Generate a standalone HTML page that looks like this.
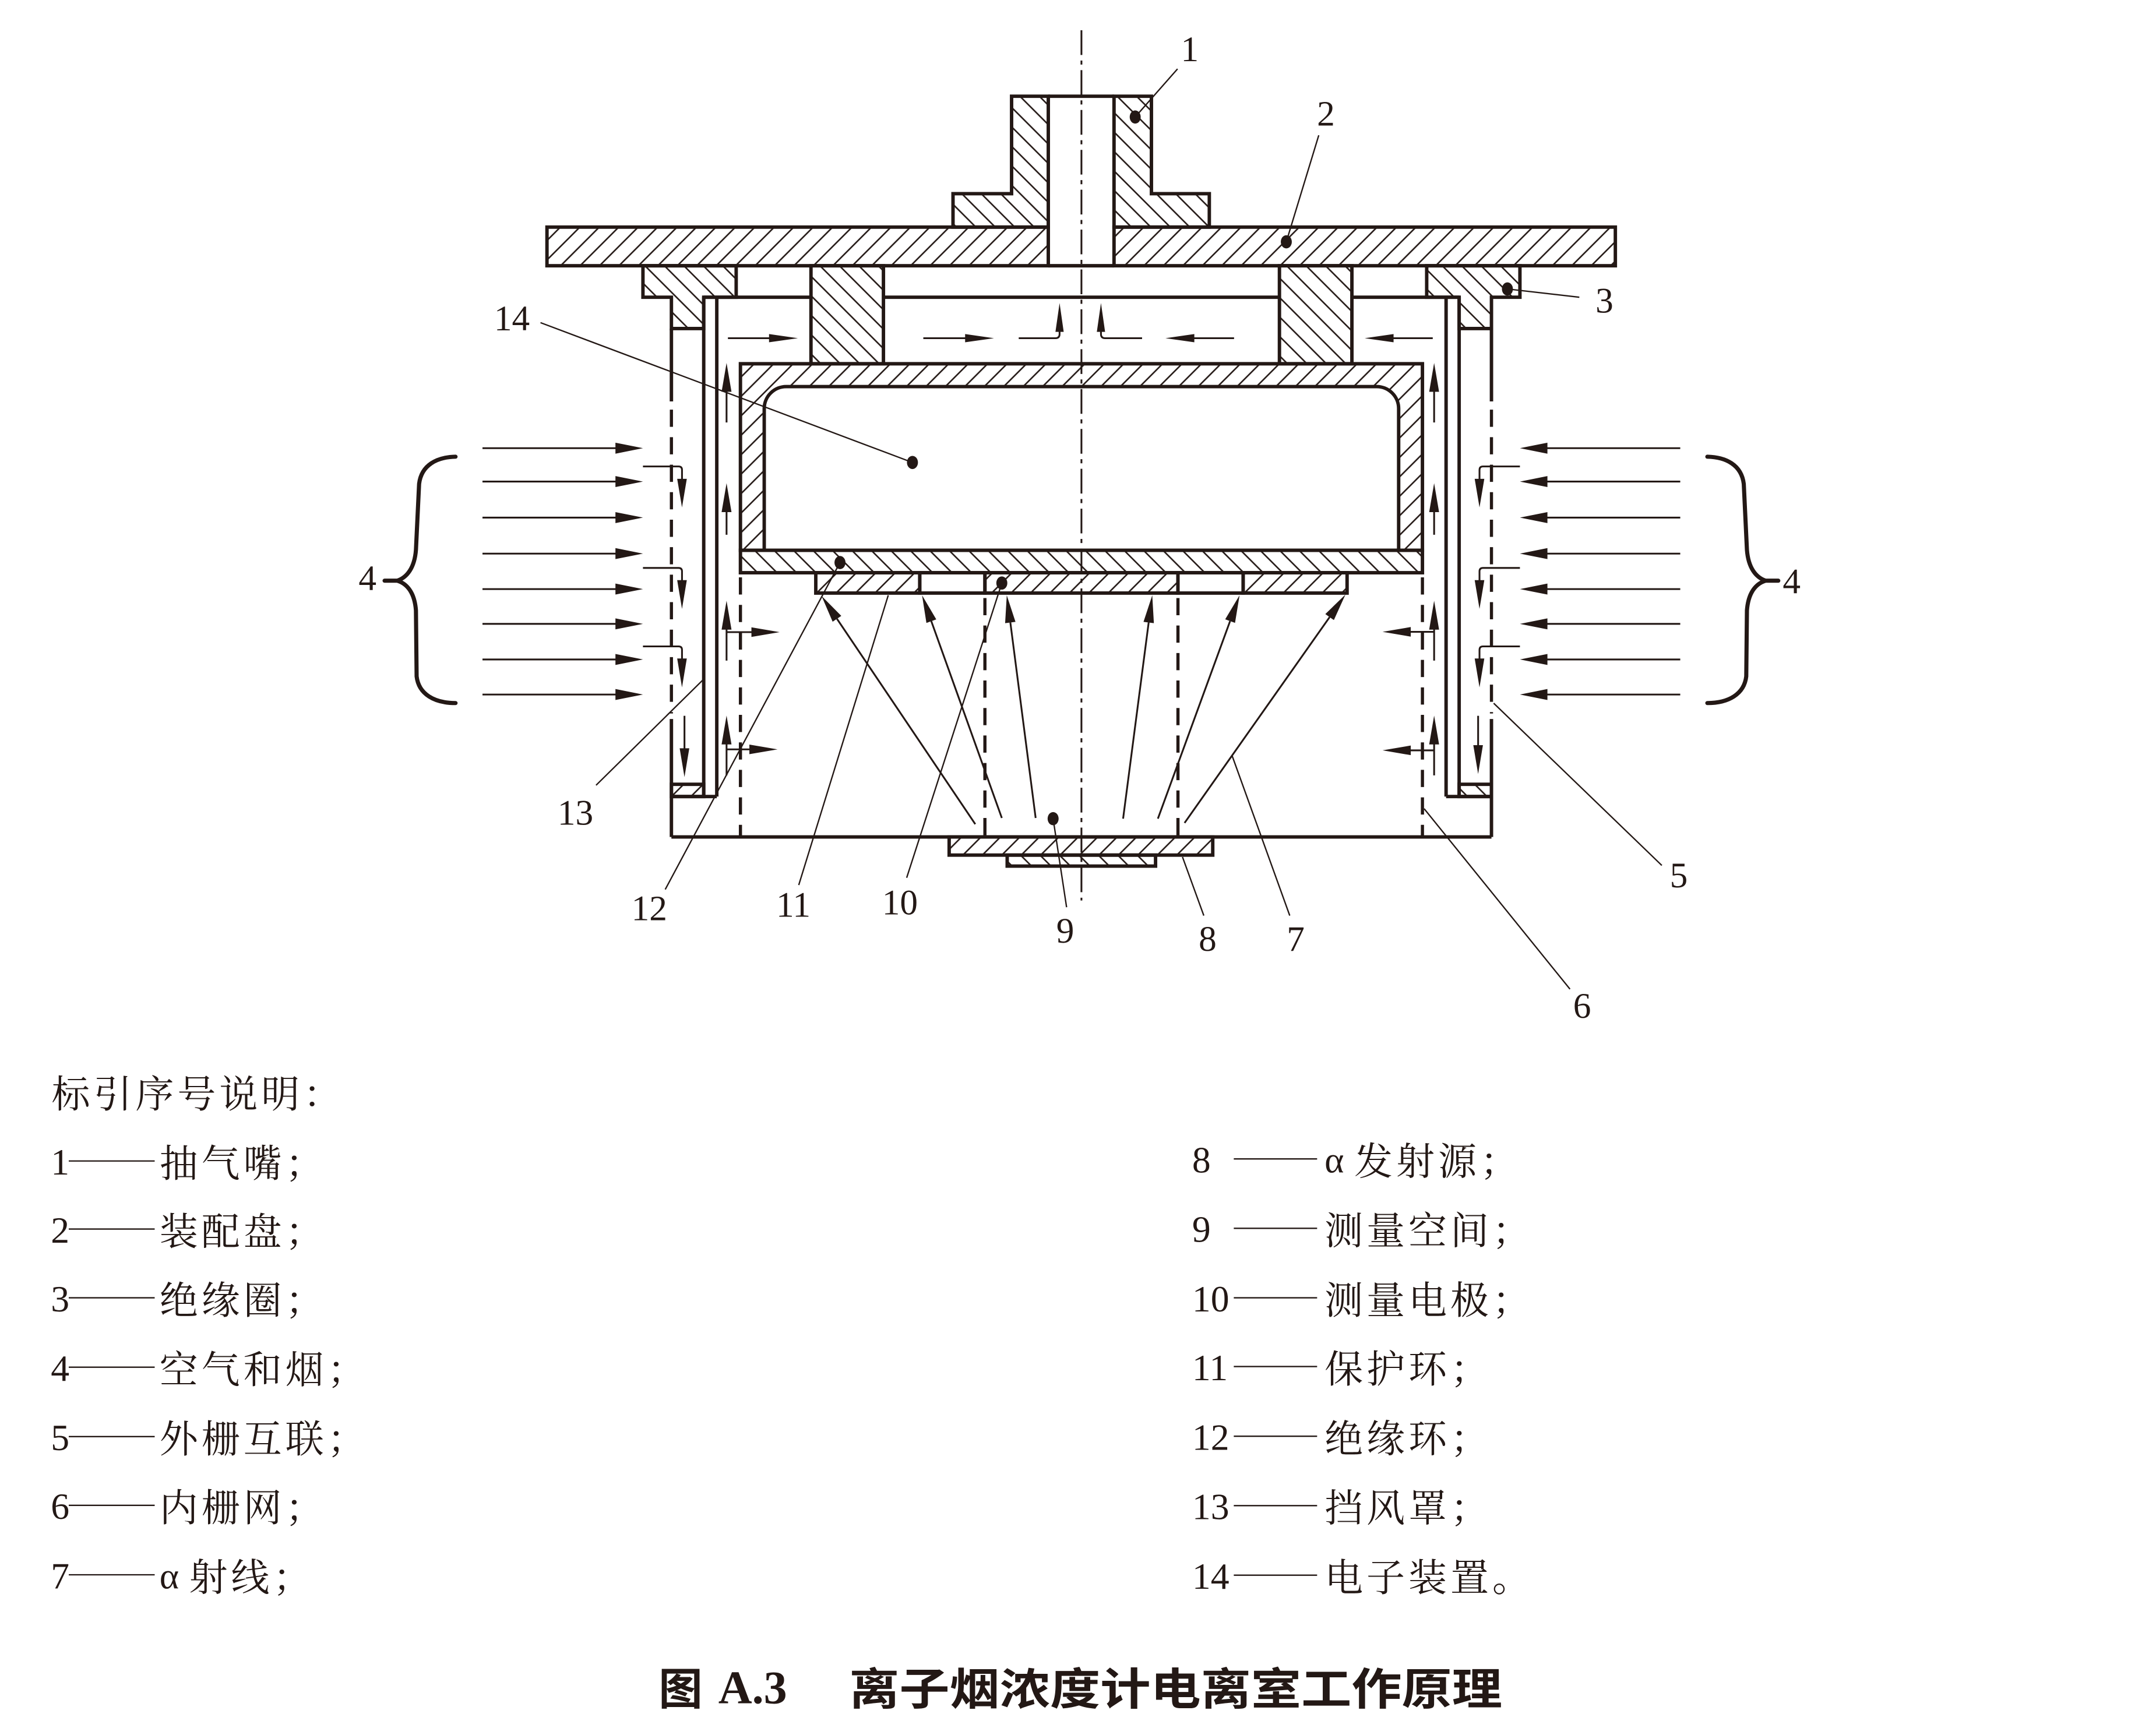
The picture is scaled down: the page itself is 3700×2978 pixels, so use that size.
<!DOCTYPE html>
<html><head><meta charset="utf-8">
<style>
html,body{margin:0;padding:0;background:#fff}
svg{display:block}
.lab{font-family:"Liberation Serif",serif;font-size:26px;fill:#231815;text-anchor:middle}
.num{font-family:"Liberation Serif",serif;font-size:27px;fill:#231815}
.cjk{font-family:"Liberation Serif","Noto Serif CJK SC","Noto Sans CJK SC",serif;font-size:28px;letter-spacing:2.5px;fill:#231815}
.gr{font-family:"Liberation Serif",serif;font-size:27px;fill:#231815}
.title{font-family:"Noto Sans CJK SC","WenQuanYi Zen Hei",sans-serif;font-size:32px;font-weight:700;fill:#231815}
</style>
</head><body>
<svg xmlns="http://www.w3.org/2000/svg" width="3700" height="2978" viewBox="0 0 1568 1262.04" preserveAspectRatio="none">
<defs>
<pattern id="hf" patternUnits="userSpaceOnUse" width="10" height="10" patternTransform="rotate(45)"><line x1="5" y1="-2" x2="5" y2="12" stroke="#231815" stroke-width="1.1"/></pattern>
<pattern id="hb" patternUnits="userSpaceOnUse" width="10" height="10" patternTransform="rotate(-45)"><line x1="5" y1="-2" x2="5" y2="12" stroke="#231815" stroke-width="1.1"/></pattern>
</defs>
<rect x="0" y="0" width="1568" height="1262.04" fill="#fff"/>

<g stroke="#231815" stroke-width="2.5" fill="none">
<path d="M735.7,70 H762.4 V165.2 H693.1 V140.9 H735.7 Z" fill="url(#hb)"/>
<path d="M810.2,70 H837.4 V140.9 H879.5 V165.2 H810.2 Z" fill="url(#hb)"/>
<line x1="762.4" y1="70" x2="810.2" y2="70"/>
<rect x="397.8" y="165.2" width="364.6" height="28.1" fill="url(#hf)"/>
<rect x="810.2" y="165.2" width="364.6" height="28.1" fill="url(#hf)"/>
<line x1="762.4" y1="193.3" x2="810.2" y2="193.3"/>
<path d="M467.6,193.3 H535.4 V216.2 H511.8 V239 H488.3 V216.2 H467.6 Z" fill="url(#hb)"/>
<path d="M1105.4,193.3 H1037.6 V216.2 H1061.2 V239 H1084.7 V216.2 H1105.4 Z" fill="url(#hb)"/>
<rect x="589.8" y="193.3" width="52.7" height="71.3" fill="url(#hb)"/>
<rect x="930.5" y="193.3" width="52.7" height="71.3" fill="url(#hb)"/>
<path d="M511.8,216.2 H589.8 M642.5,216.2 H930.5 M983.2,216.2 H1061.2"/>
<path d="M511.8,216.2 V579.4 M521.3,216.2 V579.4 M1061.2,216.2 V579.4 M1051.7,216.2 V579.4"/>
<rect x="488.3" y="570.5" width="23.5" height="8.9" fill="url(#hf)"/>
<path d="M488.3,579.4 H521.3"/>
<rect x="1061.2" y="570.5" width="23.5" height="8.9" fill="url(#hb)"/>
<path d="M1051.7,579.4 H1084.7"/>
<path d="M488.3,239 V292 M488.3,523 V608.8 M1084.7,239 V292 M1084.7,523 V608.8"/>
<path d="M488.3,608.8 H1084.7"/>
<rect x="690.3" y="608.8" width="191.7" height="13.2" fill="url(#hf)"/>
<rect x="732.5" y="622" width="107.9" height="8" fill="url(#hb)"/>
<path fill-rule="evenodd" fill="url(#hf)" d="M538.5,264.6 H1034.5 V400.3 H538.5 Z M555.8,400.3 V297 A16,16 0 0 1 571.8,281.2 H1001.2 A16,16 0 0 1 1017.2,297 V400.3 Z"/>
<rect x="538.5" y="400.3" width="496" height="16.3" fill="url(#hb)"/>
<rect x="593.3" y="416.6" width="75.6" height="14.8" fill="url(#hf)"/>
<rect x="668.9" y="416.6" width="47.4" height="14.8"/>
<rect x="716.3" y="416.6" width="140.4" height="14.8" fill="url(#hf)"/>
<rect x="856.7" y="416.6" width="47.4" height="14.8"/>
<rect x="904.1" y="416.6" width="75.6" height="14.8" fill="url(#hf)"/>
</g>

<g stroke="#231815" stroke-width="2.3" fill="none" stroke-dasharray="12.5 7.5">
<path d="M488.3,298 V519 M1084.7,298 V519"/>
<path d="M538.5,420 V608 M1034.5,420 V608"/>
<path d="M716.3,435 V608 M856.7,435 V608"/>
</g>

<g stroke="#231815" stroke-width="1.3" fill="none">
<path d="M529.4,246 H561 M671.5,246 H703 M897.5,246 H867 M1042,246 H1012"/>
<path d="M740.9,246 H767.6 Q770.6,246 770.6,243 V240"/>
<path d="M830.6,246 H803.7 Q800.7,246 800.7,243 V240"/>
<path d="M350.9,326 H449 M350.9,350.3 H449 M350.9,376.5 H449 M350.9,402.7 H449 M350.9,428.5 H449 M350.9,453.8 H449 M350.9,479.7 H449 M350.9,505.2 H449"/>
<path d="M1222,326 H1124 M1222,350.3 H1124 M1222,376.5 H1124 M1222,402.7 H1124 M1222,428.5 H1124 M1222,453.8 H1124 M1222,479.7 H1124 M1222,505.2 H1124"/>
<path d="M467.6,339.3 H493.5 Q496,339.3 496,341.8 V350"/>
<path d="M467.6,413.1 H493.5 Q496,413.1 496,415.6 V423"/>
<path d="M467.6,470.2 H493.5 Q496,470.2 496,472.7 V480"/>
<path d="M1105.4,339.3 H1078.5 Q1076,339.3 1076,341.8 V350"/>
<path d="M1105.4,413.1 H1078.5 Q1076,413.1 1076,415.6 V423"/>
<path d="M1105.4,470.2 H1078.5 Q1076,470.2 1076,472.7 V480"/>
<path d="M497.8,520.7 V546 M1075,520.7 V546"/>
<path d="M528.4,307.3 V283 M528.4,389 V370 M528.4,480.5 V456 M528.4,564 V539"/>
<path d="M1043,307.3 V283 M1043,389 V370 M1043,480.5 V456 M1043,564 V539"/>
<path d="M528.4,459.8 H548 M528.4,545.1 H546.5"/>
<path d="M1043,459.6 H1025 M1043,545.8 H1025"/>
<path d="M709.3,599.5 L608.7,450.1 M728.6,595 L677.3,451.8 M753.2,595 L734.8,452.8 M816.8,595.5 L835.4,452.8 M842.1,595.5 L894.6,451.8 M861.5,598.6 L967,448.9"/>
</g>

<g fill="#231815" stroke="none">
<polygon points="580.3,246 559.3,243 559.3,249"/>
<polygon points="722.9,246 701.9,243 701.9,249"/>
<polygon points="770.6,220.4 767.6,241.4 773.6,241.4"/>
<polygon points="800.7,220.4 797.7,241.4 803.7,241.4"/>
<polygon points="847.6,246 868.6,243 868.6,249"/>
<polygon points="992.5,246 1013.5,243 1013.5,249"/>
<polygon points="467.6,326 447.6,322 447.6,330"/>
<polygon points="467.6,350.3 447.6,346.3 447.6,354.3"/>
<polygon points="467.6,376.5 447.6,372.5 447.6,380.5"/>
<polygon points="467.6,402.7 447.6,398.7 447.6,406.7"/>
<polygon points="467.6,428.5 447.6,424.5 447.6,432.5"/>
<polygon points="467.6,453.8 447.6,449.8 447.6,457.8"/>
<polygon points="467.6,479.7 447.6,475.7 447.6,483.7"/>
<polygon points="467.6,505.2 447.6,501.2 447.6,509.2"/>
<polygon points="1105.4,326 1125.4,322 1125.4,330"/>
<polygon points="1105.4,350.3 1125.4,346.3 1125.4,354.3"/>
<polygon points="1105.4,376.5 1125.4,372.5 1125.4,380.5"/>
<polygon points="1105.4,402.7 1125.4,398.7 1125.4,406.7"/>
<polygon points="1105.4,428.5 1125.4,424.5 1125.4,432.5"/>
<polygon points="1105.4,453.8 1125.4,449.8 1125.4,457.8"/>
<polygon points="1105.4,479.7 1125.4,475.7 1125.4,483.7"/>
<polygon points="1105.4,505.2 1125.4,501.2 1125.4,509.2"/>
<polygon points="496,369.1 492.5,348.3 499.5,348.3"/>
<polygon points="496,442.9 492.5,422 499.5,422"/>
<polygon points="496,500 492.5,479 499.5,479"/>
<polygon points="1076,369.1 1072.5,348.3 1079.5,348.3"/>
<polygon points="1076,442.9 1072.5,422 1079.5,422"/>
<polygon points="1076,500 1072.5,479 1079.5,479"/>
<polygon points="497.8,565.3 494.3,544.3 501.3,544.3"/>
<polygon points="1075,563 1071.5,542 1078.5,542"/>
<polygon points="528.4,264 524.8,285 532,285"/>
<polygon points="528.4,351.5 524.8,372.5 532,372.5"/>
<polygon points="528.4,437 524.8,458 532,458"/>
<polygon points="528.4,520.5 524.8,541.5 532,541.5"/>
<polygon points="1043,264 1039.4,285 1046.6,285"/>
<polygon points="1043,351.5 1039.4,372.5 1046.6,372.5"/>
<polygon points="1043,437 1039.4,458 1046.6,458"/>
<polygon points="1043,520.5 1039.4,541.5 1046.6,541.5"/>
<polygon points="567,459.8 546.5,456.3 546.5,463.3"/>
<polygon points="565.5,545.1 545,541.6 545,548.6"/>
<polygon points="1005.5,459.6 1026,456.1 1026,463.1"/>
<polygon points="1005.5,545.8 1026,542.3 1026,549.3"/>
<polygon points="597.5,433.5 611.85,447.98 605.55,452.22"/>
<polygon points="670.6,433 680.92,450.55 673.76,453.11"/>
<polygon points="732.2,433 738.54,452.34 731,453.32"/>
<polygon points="838,433 839.18,453.32 831.64,452.34"/>
<polygon points="901.5,433 898.2,453.1 891.06,450.49"/>
<polygon points="978.5,432.5 970.09,451.04 963.87,446.66"/>
</g>

<g stroke="#231815" stroke-width="3" fill="none" stroke-linecap="round">
<path d="M331.3,332.2 C318,332.5 306.5,338 304.8,352 L302.5,400 C301.5,413 296,420 288.9,422.4 L279.7,422.4 M288.9,422.4 C296,424.5 301.5,431 302.5,444 L303,492 C304.5,505 316,511.4 331.3,511.4"/>
<path d="M1241.7,332.2 C1255,332.5 1266.5,338 1268.2,352 L1270.5,400 C1271.5,413 1277,420 1284.1,422.4 L1293.3,422.4 M1284.1,422.4 C1277,424.5 1271.5,431 1270.5,444 L1270,492 C1268.5,505 1257,511.4 1241.7,511.4"/>
</g>

<g stroke="#231815" stroke-width="1" fill="none">
<line x1="856.4" y1="50.1" x2="825.6" y2="85.1"/>
<line x1="959.1" y1="98.4" x2="935.5" y2="175.9"/>
<line x1="1148.6" y1="216.2" x2="1096.3" y2="210.2"/>
<line x1="393.1" y1="234.7" x2="663.6" y2="336.4"/>
<line x1="433.5" y1="571.2" x2="511.8" y2="494"/>
<line x1="483.8" y1="647" x2="610.9" y2="409.2"/>
<line x1="580.9" y1="643.8" x2="646" y2="433"/>
<line x1="659.4" y1="638.5" x2="728.6" y2="424.1"/>
<line x1="775.7" y1="659.9" x2="765.9" y2="595.5"/>
<line x1="875.5" y1="666" x2="860" y2="623.4"/>
<line x1="938" y1="666" x2="895.9" y2="549.2"/>
<line x1="1141.8" y1="719.5" x2="1035.7" y2="588.2"/>
<line x1="1208.6" y1="629.5" x2="1086.3" y2="511.5"/>
</g>
<g fill="#231815">
<ellipse cx="825.6" cy="85.1" rx="4" ry="4.8"/>
<ellipse cx="935.5" cy="175.9" rx="4" ry="4.8"/>
<ellipse cx="1096.3" cy="210.2" rx="4" ry="4.8"/>
<ellipse cx="663.6" cy="336.4" rx="4" ry="4.8"/>
<ellipse cx="610.9" cy="409.2" rx="4" ry="4.8"/>
<ellipse cx="728.6" cy="424.1" rx="4" ry="4.8"/>
<ellipse cx="765.9" cy="595.5" rx="4" ry="4.8"/>
</g>

<line x1="786.5" y1="22" x2="786.5" y2="655" stroke="#231815" stroke-width="1.3" stroke-dasharray="18 4 3 4"/>

<text class="lab" x="865.3" y="44.6">1</text>
<text class="lab" x="964.3" y="91.4">2</text>
<text class="lab" x="1166.9" y="227.3">3</text>
<text class="lab" x="267.3" y="429.2">4</text>
<text class="lab" x="1303" y="431.6">4</text>
<text class="lab" x="1220.9" y="645.4">5</text>
<text class="lab" x="1150.6" y="740.3">6</text>
<text class="lab" x="942.3" y="691.6">7</text>
<text class="lab" x="878.3" y="691.6">8</text>
<text class="lab" x="774.7" y="685.6">9</text>
<text class="lab" x="654.5" y="665.1">10</text>
<text class="lab" x="577" y="666.8">11</text>
<text class="lab" x="472.2" y="669.4">12</text>
<text class="lab" x="418.5" y="599.9">13</text>
<text class="lab" x="372.3" y="240.2">14</text>

<text class="cjk" x="37.5" y="805.6">标引序号说明：</text>

<g stroke="#231815" stroke-width="1" fill="none">
<path d="M50,844.5 H112.5 M50,894 H112.5 M50,944 H112.5 M50,994.5 H112.5 M50,1045 H112.5 M50,1095 H112.5 M50,1145.5 H112.5"/>
<path d="M897.3,843 H957.9 M897.3,893.5 H957.9 M897.3,944 H957.9 M897.3,994 H957.9 M897.3,1044.7 H957.9 M897.3,1095.2 H957.9 M897.3,1145.8 H957.9"/>
</g>

<text class="num" x="37" y="854.4">1</text>
<text class="num" x="37" y="903.9">2</text>
<text class="num" x="37" y="953.9">3</text>
<text class="num" x="37" y="1004.4">4</text>
<text class="num" x="37" y="1054.9">5</text>
<text class="num" x="37" y="1104.9">6</text>
<text class="num" x="37" y="1155.4">7</text>

<text class="cjk" x="116" y="856.1">抽气嘴；</text>
<text class="cjk" x="116" y="905.6">装配盘；</text>
<text class="cjk" x="116" y="955.6">绝缘圈；</text>
<text class="cjk" x="116" y="1006.1">空气和烟；</text>
<text class="cjk" x="116" y="1056.6">外栅互联；</text>
<text class="cjk" x="116" y="1106.6">内栅网；</text>
<text class="gr" x="116" y="1155.4">α</text>
<text class="cjk" x="137.5" y="1157.1">射线；</text>

<text class="num" x="867" y="852.9">8</text>
<text class="num" x="867" y="903.4">9</text>
<text class="num" x="867" y="953.9">10</text>
<text class="num" x="867" y="1003.9">11</text>
<text class="num" x="867" y="1054.6">12</text>
<text class="num" x="867" y="1105.1">13</text>
<text class="num" x="867" y="1155.7">14</text>

<text class="gr" x="963.3" y="852.9">α</text>
<text class="cjk" x="984.9" y="854.6">发射源；</text>
<text class="cjk" x="963.3" y="905.1">测量空间；</text>
<text class="cjk" x="963.3" y="955.6">测量电极；</text>
<text class="cjk" x="963.3" y="1005.6">保护环；</text>
<text class="cjk" x="963.3" y="1056.3">绝缘环；</text>
<text class="cjk" x="963.3" y="1106.8">挡风罩；</text>
<text class="cjk" x="963.3" y="1157.4">电子装置。</text>

<text class="title" x="479" y="1240">图</text>
<text x="522.4" y="1239" font-family="Liberation Serif, serif" font-size="34" font-weight="700" fill="#231815" textLength="50" lengthAdjust="spacingAndGlyphs">A.3</text>
<text class="title" x="617.5" y="1240" textLength="475" lengthAdjust="spacingAndGlyphs">离子烟浓度计电离室工作原理</text>
</svg>
</body></html>
